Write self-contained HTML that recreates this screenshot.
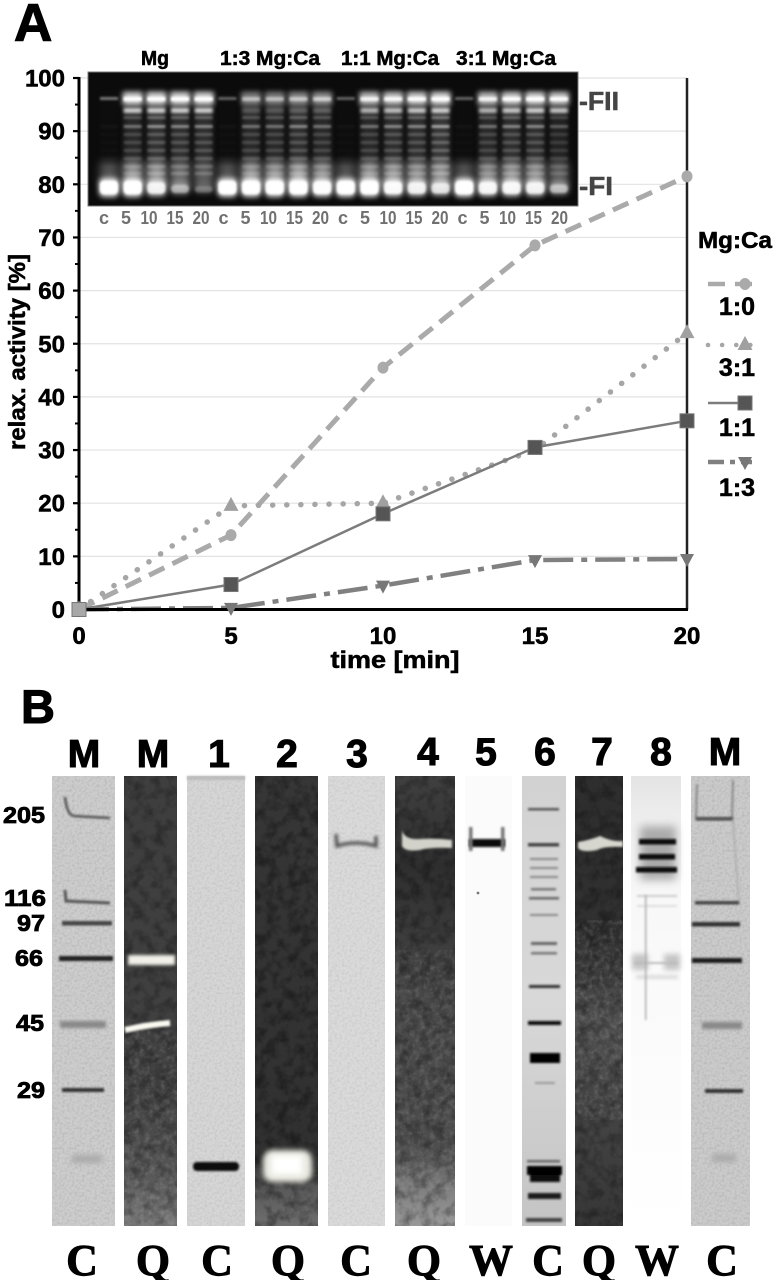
<!DOCTYPE html>
<html lang="en">
<head>
<meta charset="utf-8">
<title>Relaxation activity and gel panels</title>
<style>
html,body{margin:0;padding:0;background:#fff;width:776px;height:1280px;overflow:hidden}
svg{display:block;position:absolute;left:0;top:0}
text{font-family:"Liberation Sans",sans-serif;font-weight:700;fill:#000;stroke:#000;stroke-width:.55px}
.serif{font-family:"Liberation Serif",serif;font-size:44px;text-anchor:middle;stroke-width:.9px}
.lane-top{font-size:39px;text-anchor:middle;stroke-width:1.1px}
.mw{font-size:23px;text-anchor:end;stroke-width:.8px}
.gel-tick{font-size:18px;fill:#707070;stroke:none;text-anchor:middle}
.gray-label{fill:#444;stroke:#444}
.panel{stroke-width:1.1px}
</style>
</head>
<body>
<svg id="figure" width="776" height="1280" viewBox="0 0 776 1280" xmlns="http://www.w3.org/2000/svg">
<defs>
  <filter id="b05" filterUnits="userSpaceOnUse" x="0" y="0" width="776" height="1280"><feGaussianBlur stdDeviation="1"/></filter>
  <filter id="b1" filterUnits="userSpaceOnUse" x="0" y="0" width="776" height="1280"><feGaussianBlur stdDeviation="1.5"/></filter>
  <filter id="b2" filterUnits="userSpaceOnUse" x="0" y="0" width="776" height="1280"><feGaussianBlur stdDeviation="2.6"/></filter>
  <filter id="b3" filterUnits="userSpaceOnUse" x="0" y="0" width="776" height="1280"><feGaussianBlur stdDeviation="4.5"/></filter>
  <filter id="grainLight" x="0" y="0" width="100%" height="100%">
    <feTurbulence type="fractalNoise" baseFrequency="0.2" numOctaves="3" seed="4"/>
    <feColorMatrix type="matrix" values="0 0 0 0 0.85  0 0 0 0 0.85  0 0 0 0 0.85  2.4 0 0 0 -1"/>
    <feComposite in2="SourceAlpha" operator="in"/>
  </filter>
  <filter id="grainDark" x="0" y="0" width="100%" height="100%">
    <feTurbulence type="fractalNoise" baseFrequency="0.09" numOctaves="3" seed="9"/>
    <feColorMatrix type="matrix" values="0 0 0 0 0  0 0 0 0 0  0 0 0 0 0  2.6 0 0 0 -1.05"/>
    <feComposite in2="SourceAlpha" operator="in"/>
  </filter>
  <filter id="grainFine" x="0" y="0" width="100%" height="100%">
    <feTurbulence type="fractalNoise" baseFrequency="0.4" numOctaves="2" seed="2"/>
    <feColorMatrix type="matrix" values="0 0 0 0 0  0 0 0 0 0  0 0 0 0 0  2 0 0 0 -.8"/>
    <feComposite in2="SourceAlpha" operator="in"/>
  </filter>
  <linearGradient id="gradLaneMQ" x1="0" y1="0" x2="0" y2="1"><stop offset="0" stop-color="#3e3e3e"/><stop offset=".7" stop-color="#404040"/><stop offset=".88" stop-color="#555"/><stop offset="1" stop-color="#7a7a7a"/></linearGradient>
  <linearGradient id="gradLane2" x1="0" y1="0" x2="0" y2="1"><stop offset="0" stop-color="#363636"/><stop offset=".85" stop-color="#303030"/><stop offset=".92" stop-color="#5a5a5a"/><stop offset="1" stop-color="#6e6e6e"/></linearGradient>
  <linearGradient id="gradLane4" x1="0" y1="0" x2="0" y2="1"><stop offset="0" stop-color="#404040"/><stop offset=".2" stop-color="#2e2e2e"/><stop offset=".5" stop-color="#484848"/><stop offset=".82" stop-color="#4c4c4c"/><stop offset=".92" stop-color="#808080"/><stop offset="1" stop-color="#999"/></linearGradient>
  <linearGradient id="gradLane7" x1="0" y1="0" x2="0" y2="1"><stop offset="0" stop-color="#2e2e2e"/><stop offset=".35" stop-color="#303030"/><stop offset=".55" stop-color="#505050"/><stop offset=".75" stop-color="#444"/><stop offset="1" stop-color="#363636"/></linearGradient>
  <linearGradient id="gradLane8" x1="0" y1="0" x2="0" y2="1"><stop offset="0" stop-color="#e4e4e4"/><stop offset=".1" stop-color="#eee"/><stop offset=".28" stop-color="#f8f8f8"/><stop offset="1" stop-color="#fff"/></linearGradient>
  <linearGradient id="gradLane6" x1="0" y1="0" x2="0" y2="1"><stop offset="0" stop-color="#d2d2d2"/><stop offset=".5" stop-color="#d8d8d8"/><stop offset="1" stop-color="#c4c4c4"/></linearGradient>
</defs>

<text class="panel" x="14" y="41" font-size="53">A</text>
<text class="panel" x="21" y="723" font-size="47">B</text>

<g id="chart-under"></g>

<g id="gel-a">
  <rect x="88" y="72" width="490" height="134" fill="#0b0b0b" stroke="#777" stroke-width="1"/>
  <g id="gel-a-lanes"></g>
</g>
<text x="155" y="65" font-size="20" text-anchor="middle" textLength="28" lengthAdjust="spacingAndGlyphs">Mg</text>
<text x="270" y="65" font-size="20" text-anchor="middle" textLength="100" lengthAdjust="spacingAndGlyphs">1:3 Mg:Ca</text>
<text x="390" y="65" font-size="20" text-anchor="middle" textLength="98" lengthAdjust="spacingAndGlyphs">1:1 Mg:Ca</text>
<text x="506" y="65" font-size="20" text-anchor="middle" textLength="100" lengthAdjust="spacingAndGlyphs">3:1 Mg:Ca</text>
<text class="gray-label" x="579" y="110" font-size="26" textLength="40" lengthAdjust="spacingAndGlyphs">-FII</text>
<text class="gray-label" x="579" y="195" font-size="26" textLength="34" lengthAdjust="spacingAndGlyphs">-FI</text>
<g id="gel-a-ticks"></g>

<g id="chart-lines"></g>
<g id="chart-axes"></g>
<g id="chart-marks"></g>

<text x="395" y="668" font-size="24" text-anchor="middle" textLength="129" lengthAdjust="spacingAndGlyphs">time [min]</text>
<text transform="translate(25,352) rotate(-90)" font-size="23" text-anchor="middle" textLength="196" lengthAdjust="spacingAndGlyphs">relax. activity [%]</text>
<g id="legend">
  <text x="698" y="248" font-size="23" textLength="74" lengthAdjust="spacingAndGlyphs">Mg:Ca</text>
</g>

<!-- Panel B -->
<g>
  <text class="lane-top" x="84" y="767">M</text>
  <text class="lane-top" x="153" y="767">M</text>
  <text class="lane-top" x="219" y="767">1</text>
  <text class="lane-top" x="287" y="767">2</text>
  <text class="lane-top" x="357" y="767">3</text>
  <text class="lane-top" x="428" y="765">4</text>
  <text class="lane-top" x="486" y="765">5</text>
  <text class="lane-top" x="545" y="765">6</text>
  <text class="lane-top" x="602" y="765">7</text>
  <text class="lane-top" x="661" y="765">8</text>
  <text class="lane-top" x="725" y="765">M</text>
</g>
<g>
  <text class="mw" x="45" y="823" textLength="42" lengthAdjust="spacingAndGlyphs">205</text>
  <text class="mw" x="46" y="906" textLength="42" lengthAdjust="spacingAndGlyphs">116</text>
  <text class="mw" x="45" y="931" textLength="28" lengthAdjust="spacingAndGlyphs">97</text>
  <text class="mw" x="43" y="966" textLength="28" lengthAdjust="spacingAndGlyphs">66</text>
  <text class="mw" x="44" y="1031" textLength="28" lengthAdjust="spacingAndGlyphs">45</text>
  <text class="mw" x="45" y="1098" textLength="28" lengthAdjust="spacingAndGlyphs">29</text>
</g>

<g>
  <rect x="52" y="776" width="63" height="450" fill="#cdcdcd"/>
  <rect x="52" y="776" width="63" height="450" opacity=".1" filter="url(#grainFine)"/>
  <path d="M65 797 Q67 815 74 816 L110 818" fill="none" stroke="#555" stroke-width="2.6" filter="url(#b05)"/>
  <path d="M65 890 L66 901 L110 903" fill="none" stroke="#555" stroke-width="3" filter="url(#b05)"/>
  <rect x="62" y="921" width="50" height="4.5" fill="#444" filter="url(#b05)"/>
  <rect x="59" y="956" width="54" height="5" fill="#222" filter="url(#b05)"/>
  <rect x="60" y="1021" width="46" height="7" fill="#888" filter="url(#b1)"/>
  <rect x="62" y="1088" width="42" height="4" fill="#333" filter="url(#b05)"/>
  <rect x="72" y="1155" width="30" height="8" fill="#aaa" filter="url(#b2)"/>
</g>
<g>
  <rect x="124" y="776" width="53" height="450" fill="url(#gradLaneMQ)"/>
  <rect x="124" y="1030" width="53" height="196" fill="#fff" opacity=".14" filter="url(#grainLight)"/>
  <rect x="124" y="776" width="53" height="450" opacity=".28" filter="url(#grainDark)"/>
  <rect x="128" y="955" width="47" height="10" fill="#f0f0e8" filter="url(#b1)"/>
  <path d="M125 1030 Q145 1025 170 1023" fill="none" stroke="#fafaf2" stroke-width="6" filter="url(#b05)"/>
</g>
<g>
  <rect x="187" y="776" width="58" height="450" fill="#d6d6d6"/>
  <rect x="187" y="776" width="58" height="450" opacity=".08" filter="url(#grainFine)"/>
  <rect x="187" y="776" width="58" height="4" fill="#bbb" filter="url(#b05)"/>
  <rect x="193" y="1162" width="46" height="9" rx="4" fill="#111" filter="url(#b05)"/>
</g>
<g>
  <rect x="255" y="776" width="63" height="450" fill="url(#gradLane2)"/>
  <rect x="255" y="776" width="63" height="450" opacity=".35" filter="url(#grainDark)"/>
  <rect x="263" y="1150" width="49" height="32" rx="10" fill="#eaeae2" filter="url(#b2)"/>
  <rect x="272" y="1156" width="30" height="18" fill="#fff" filter="url(#b2)"/>
</g>
<g>
  <rect x="328" y="776" width="57" height="450" fill="#dadada"/>
  <rect x="328" y="776" width="57" height="450" opacity=".07" filter="url(#grainFine)"/>
  <path d="M336 834 L337 846 Q356 840 376 846 L376 836" fill="none" stroke="#555" stroke-width="3.5" filter="url(#b1)"/>
</g>
<g>
  <rect x="395" y="776" width="60" height="450" fill="url(#gradLane4)"/>
  <rect x="395" y="950" width="60" height="240" fill="#fff" opacity=".13" filter="url(#grainLight)"/>
  <rect x="395" y="776" width="60" height="450" opacity=".3" filter="url(#grainDark)"/>
  <path d="M402 830 Q404 840 420 839 Q436 838 452 840 L452 848 Q430 847 420 850 Q405 852 402 846 Z" fill="#d2d2ca" filter="url(#b05)"/>
</g>
<g>
  <rect x="465" y="776" width="47" height="450" fill="#fbfbfb"/>
  <rect x="469" y="839" width="36" height="8" fill="#111" filter="url(#b05)"/>
  <rect x="469" y="827" width="3.5" height="24" fill="#777" filter="url(#b05)"/>
  <rect x="501" y="827" width="3.5" height="24" fill="#777" filter="url(#b05)"/>
  <circle cx="478" cy="893" r="1.4" fill="#777"/>
</g>
<g>
  <rect x="522" y="776" width="44" height="450" fill="url(#gradLane6)"/>
  <g filter="url(#b05)">
    <rect x="528" y="808" width="31" height="2.5" fill="#555"/>
    <rect x="528" y="843" width="31" height="3.5" fill="#444"/>
    <rect x="530" y="858" width="28" height="2" fill="#888"/>
    <rect x="530" y="867" width="28" height="2" fill="#888"/>
    <rect x="530" y="876" width="28" height="2" fill="#888"/>
    <rect x="531" y="888" width="25" height="2.5" fill="#777"/>
    <rect x="529" y="897" width="30" height="2.5" fill="#666"/>
    <rect x="530" y="914" width="28" height="2" fill="#888"/>
    <rect x="531" y="942" width="26" height="3" fill="#666"/>
    <rect x="531" y="952" width="26" height="2.5" fill="#777"/>
    <rect x="529" y="985" width="31" height="3" fill="#333"/>
    <rect x="528" y="1021" width="33" height="4" fill="#111"/>
    <rect x="530" y="1053" width="30" height="10" fill="#000"/>
    <rect x="535" y="1082" width="20" height="2" fill="#999"/>
    <rect x="527" y="1160" width="33" height="2.5" fill="#666"/>
    <rect x="527" y="1166" width="35" height="9" fill="#000"/>
    <rect x="530" y="1175" width="30" height="7" fill="#111"/>
    <rect x="528" y="1193" width="33" height="6" fill="#1a1a1a"/>
    <rect x="526" y="1218" width="36" height="4" fill="#444"/>
  </g>
</g>
<g>
  <rect x="575" y="776" width="48" height="450" fill="url(#gradLane7)"/>
  <rect x="575" y="920" width="48" height="200" fill="#fff" opacity=".15" filter="url(#grainLight)"/>
  <rect x="575" y="776" width="48" height="450" opacity=".3" filter="url(#grainDark)"/>
  <path d="M578 842 Q590 840 600 836 Q612 842 623 841 L623 847 Q605 846 597 850 Q582 853 578 848 Z" fill="#d6d6ce" filter="url(#b05)"/>
</g>
<g>
  <rect x="631" y="776" width="50" height="450" fill="url(#gradLane8)"/>
  <rect x="640" y="826" width="36" height="54" fill="#aaa" filter="url(#b3)"/>
  <rect x="639" y="839" width="37" height="5.5" fill="#111" filter="url(#b05)"/>
  <rect x="639" y="854" width="36" height="5.5" fill="#111" filter="url(#b05)"/>
  <rect x="636" y="867" width="41" height="5.5" fill="#111" filter="url(#b05)"/>
  <rect x="637" y="895" width="40" height="2" fill="#ccc" filter="url(#b05)"/>
  <rect x="637" y="905" width="40" height="2" fill="#ddd" filter="url(#b05)"/>
  <rect x="632" y="954" width="16" height="16" fill="#c4c4c4" filter="url(#b2)"/>
  <rect x="664" y="954" width="16" height="16" fill="#c4c4c4" filter="url(#b2)"/>
  <rect x="634" y="962" width="44" height="2" fill="#bbb" filter="url(#b05)"/>
  <rect x="636" y="975" width="42" height="4" fill="#ddd" filter="url(#b1)"/>
  <rect x="645" y="895" width="1.5" height="125" fill="#aaa" filter="url(#b05)"/>
</g>
<g>
  <rect x="691" y="776" width="59" height="450" fill="#cbcbcb"/>
  <rect x="691" y="776" width="59" height="450" opacity=".1" filter="url(#grainFine)"/>
  <path d="M697 784 L696 819 L732 819 L733 780" fill="none" stroke="#888" stroke-width="2" filter="url(#b05)"/>
  <rect x="696" y="817" width="37" height="3.5" fill="#555" filter="url(#b05)"/>
  <path d="M733 819 L739 905" fill="none" stroke="#aaa" stroke-width="1.5" filter="url(#b05)"/>
  <rect x="695" y="901" width="44" height="3.5" fill="#444" filter="url(#b05)"/>
  <rect x="692" y="922" width="48" height="4.5" fill="#333" filter="url(#b05)"/>
  <rect x="692" y="958" width="50" height="5" fill="#1c1c1c" filter="url(#b05)"/>
  <rect x="702" y="1022" width="40" height="7" fill="#888" filter="url(#b1)"/>
  <rect x="705" y="1089" width="38" height="4" fill="#333" filter="url(#b05)"/>
  <rect x="712" y="1154" width="24" height="8" fill="#aaa" filter="url(#b2)"/>
</g>

<g>
  <text class="serif" x="82" y="1275">C</text>
  <text class="serif" x="153" y="1275">Q</text>
  <text class="serif" x="217" y="1275">C</text>
  <text class="serif" x="288" y="1275">Q</text>
  <text class="serif" x="356" y="1275">C</text>
  <text class="serif" x="424" y="1275">Q</text>
  <text class="serif" x="491" y="1275">W</text>
  <text class="serif" x="548" y="1275">C</text>
  <text class="serif" x="599" y="1275">Q</text>
  <text class="serif" x="657" y="1275">W</text>
  <text class="serif" x="722" y="1275">C</text>
</g>
</svg>

<script>
// Chart data
var timeValues = [0, 5, 10, 15, 20];
var xTickLabels = ['0', '5', '10', '15', '20'];
var yTickValues = [0, 10, 20, 30, 40, 50, 60, 70, 80, 90, 100];
var yMinorTicks = [5, 15, 25, 35, 45, 55, 65, 75, 85, 95];
var series1to0 = [0, 14, 45.5, 68.5, 81.5];
var series3to1 = [0, 19.5, 20, 30, 52];
var series1to1 = [0, 4.7, 18, 30.5, 35.5];
var series1to3 = [0, 0.3, 4.5, 9.3, 9.5];
var legendLabels = ['1:0', '3:1', '1:1', '1:3'];

// Gel inset brightness per lane (0-1)
var gelLaneLabels = ['c','5','10','15','20','c','5','10','15','20','c','5','10','15','20','c','5','10','15','20'];
var gelFormII = [.55,1,1,1,1, .45,.5,.5,.55,.6, .45,.85,.9,.95,1, .45,.85,.95,1,.95];
var gelFormI = [1,1,.8,.45,.25, 1,1,1,1,.95, 1,1,.9,.8,.7, 1,.85,.85,.8,.5];
var gelLadder = [.04,.5,.65,.6,.6, .04,.5,.5,.6,.5, .04,.5,.6,.6,.75, .04,.5,.6,.6,.4];

var NS = 'http://www.w3.org/2000/svg';
function svgEl(tag, attrs, parent) {
  var el = document.createElementNS(NS, tag);
  for (var k in attrs) { el.setAttribute(k, attrs[k]); }
  parent.appendChild(el);
  return el;
}
function xScale(t) { return 79 + (t / 20) * 608; }
function yScale(v) { return 609.5 - (v / 100) * 531.5; }

var under = document.getElementById('chart-under');
var axes = document.getElementById('chart-axes');
var lines = document.getElementById('chart-lines');
var marks = document.getElementById('chart-marks');

yTickValues.forEach(function (v) {
  if (v === 0) { return; }
  var g = svgEl('line', {x1: xScale(0), x2: xScale(20), y1: yScale(v), y2: yScale(v), stroke: '#e2e2e2', 'stroke-width': 1.2}, under);
  
  
});

function polyPoints(values) {
  return values.map(function (v, i) { return xScale(timeValues[i]) + ',' + yScale(v); }).join(' ');
}
function drawLine(values, stroke, width, dash, cap, name) {
  var el = svgEl('polyline', {points: polyPoints(values), fill: 'none', stroke: stroke, 'stroke-width': width, 'stroke-dasharray': dash, 'stroke-linecap': cap}, lines);
  
  
}
drawLine(series1to0, '#aaaaaa', 5, '17 9', 'butt', 'line-1-0');
drawLine(series3to1, '#a6a6a6', 5.5, '0.1 14', 'round', 'line-3-1');
drawLine(series1to1, '#7c7c7c', 2.5, 'none', 'butt', 'line-1-1');
drawLine(series1to3, '#808080', 4.5, '30 8 6 8', 'butt', 'line-1-3');

// Axes
var leftAxis = svgEl('line', {x1: 79, x2: 79, y1: yScale(100) - 1, y2: yScale(0) + 1, stroke: '#000', 'stroke-width': 3}, axes);


var rightAxis = svgEl('line', {x1: xScale(20), x2: xScale(20), y1: yScale(100), y2: yScale(0), stroke: '#222', 'stroke-width': 2.5}, axes);


var bottomAxis = svgEl('line', {x1: 78, x2: xScale(20) + 1, y1: yScale(0), y2: yScale(0), stroke: '#000', 'stroke-width': 3}, axes);



yTickValues.forEach(function (v) {
  var tk = svgEl('line', {x1: 73, x2: 79, y1: yScale(v), y2: yScale(v), stroke: '#000', 'stroke-width': 2.2}, axes);
  
  
  var t = svgEl('text', {x: 65, y: yScale(v) + 8.5, 'text-anchor': 'end', 'font-size': 24}, axes);
  t.textContent = String(v);
  
  
});
yMinorTicks.forEach(function (v) {
  var tk = svgEl('line', {x1: 75, x2: 79, y1: yScale(v), y2: yScale(v), stroke: '#000', 'stroke-width': 2}, axes);
  
  
});
timeValues.forEach(function (t, i) {
  var lb = svgEl('text', {x: xScale(t), y: 644, 'text-anchor': 'middle', 'font-size': 24}, axes);
  lb.textContent = xTickLabels[i];
  
  
});

// Marker shapes
function markerCircle(x, y, parent) { return svgEl('ellipse', {cx: x, cy: y, rx: 5.5, ry: 6, fill: '#aaaaaa'}, parent); }
function markerUp(x, y, parent) { return svgEl('polygon', {points: (x) + ',' + (y - 9) + ' ' + (x + 7.5) + ',' + (y + 5) + ' ' + (x - 7.5) + ',' + (y + 5), fill: '#a0a0a0'}, parent); }
function markerSquare(x, y, parent, fill) { return svgEl('rect', {x: x - 7, y: y - 7, width: 14, height: 14, fill: fill || '#555555', stroke: '#777', 'stroke-width': 1}, parent); }
function markerDown(x, y, parent) { return svgEl('polygon', {points: (x) + ',' + (y + 8) + ' ' + (x + 7) + ',' + (y - 5) + ' ' + (x - 7) + ',' + (y - 5), fill: '#777777'}, parent); }

series1to3.forEach(function (v, i) {
  var m = markerDown(xScale(timeValues[i]), yScale(v), marks);
  
  
});
series1to0.forEach(function (v, i) {
  var m = markerCircle(xScale(timeValues[i]), yScale(v), marks);
  
  
});
series3to1.forEach(function (v, i) {
  var m = markerUp(xScale(timeValues[i]), yScale(v), marks);
  
  
});
series1to1.forEach(function (v, i) {
  var m = markerSquare(xScale(timeValues[i]), yScale(v), marks, i === 0 ? '#a8a8a8' : '#555555');
  
  
});

// Legend
var legend = document.getElementById('legend');
function legendRow(index, lineY, labelY, stroke, width, dash, cap, markerFn, fill) {
  var ln = svgEl('line', {x1: 708, x2: 752, y1: lineY, y2: lineY, stroke: stroke, 'stroke-width': width, 'stroke-dasharray': dash, 'stroke-linecap': cap}, legend);
  
  
  var mk = markerFn(745, lineY, legend, fill);
  
  
  var tx = svgEl('text', {x: 737, y: labelY, 'text-anchor': 'middle', 'font-size': 25}, legend);
  tx.textContent = legendLabels[index];
  
  
}
legendRow(0, 284, 315, '#aaaaaa', 4.5, '17 10', 'butt', markerCircle);
legendRow(1, 345, 376, '#a6a6a6', 4.5, '0.1 14', 'round', markerUp);
legendRow(2, 403, 436, '#7c7c7c', 2.5, 'none', 'butt', markerSquare);
legendRow(3, 462, 496, '#808080', 4.5, '16 6 5 6', 'butt', markerDown);

// Gel inset (photographic panel, drawn decoratively)
var gelRoot = document.getElementById('gel-a-lanes');
var gelTickRoot = document.getElementById('gel-a-ticks');
var ladderRows = [125, 133, 141, 149, 157, 165, 172];
gelLaneLabels.forEach(function (label, i) {
  var cx = 109 + i * 23.68;
  var w = 20;
  var fii = gelFormII[i], fi = gelFormI[i], lad = gelLadder[i];
  var g = svgEl('g', {}, gelRoot);
  
  
  // lane smear
  svgEl('rect', {x: cx - w / 2 + 1, y: 92, width: w - 2, height: 95, fill: '#fff', opacity: .24 * lad, filter: 'url(#b2)'}, g);
  svgEl('rect', {x: cx - w / 2 + 1, y: 162, width: w - 2, height: 24, fill: '#fff', opacity: .12 + .5 * fi * (lad + .3), filter: 'url(#b3)'}, g);
  // form II
  if (lad > .1) {
    svgEl('rect', {x: cx - w / 2, y: 92, width: w, height: 13, fill: '#fff', opacity: fii * .8, filter: 'url(#b2)'}, g);
    svgEl('rect', {x: cx - w / 2 + 1, y: 97, width: w - 2, height: 4, fill: '#fff', opacity: fii, filter: 'url(#b05)'}, g);
    svgEl('rect', {x: cx - w / 2 + 1, y: 108, width: w - 2, height: 5, fill: '#fff', opacity: .8 * (fii > .7 ? fii : fii * .6), filter: 'url(#b1)'}, g);
    svgEl('rect', {x: cx - w / 2 + 1, y: 116, width: w - 2, height: 3, fill: '#fff', opacity: .45 * lad, filter: 'url(#b05)'}, g);
  } else {
    svgEl('rect', {x: cx - w / 2 + 1, y: 97, width: w - 2, height: 3, fill: '#fff', opacity: fii * .8, filter: 'url(#b05)'}, g);
  }
  // ladder
  ladderRows.forEach(function (y, j) {
    svgEl('rect', {x: cx - w / 2 + 1, y: y, width: w - 2, height: 3, fill: '#fff', opacity: lad * (j === 0 ? .75 : .35), filter: 'url(#b05)'}, g);
  });
  // form I
  svgEl('rect', {x: cx - w / 2, y: 178 + (1 - fi) * 7, width: w, height: 19 - (1 - fi) * 11, rx: 5, fill: '#fff', opacity: fi * .9, filter: 'url(#b2)'}, g);
  svgEl('rect', {x: cx - w / 2 + 1, y: 181 + (1 - fi) * 7, width: w - 2, height: 13 - (1 - fi) * 9, rx: 4, fill: '#fff', opacity: fi, filter: 'url(#b05)'}, g);
  var group = Math.floor(i / 5);
  var slot = i % 5;
  var slotOffset = slot === 0 ? 0 : slot === 1 ? 22 : slot === 2 ? 45 : slot === 3 ? 71 : 97;
  var tick = svgEl('text', {'class': 'gel-tick', x: 104 + group * 119.5 + slotOffset, y: 224}, gelTickRoot);
  tick.textContent = label;
  if (label.length === 2) { tick.setAttribute('textLength', 17); tick.setAttribute('lengthAdjust', 'spacingAndGlyphs'); }
  
  
});
</script>
</body>
</html>
